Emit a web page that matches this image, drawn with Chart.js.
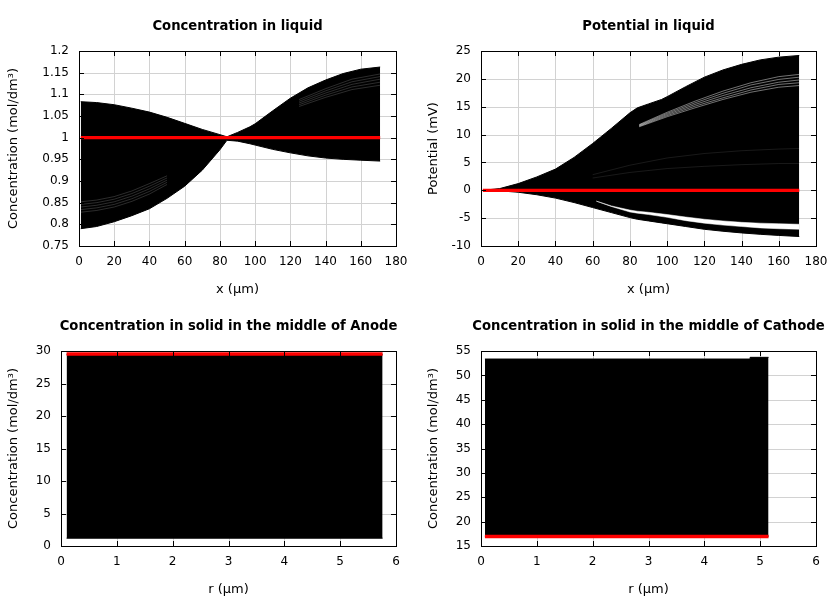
<!DOCTYPE html>
<html>
<head>
<meta charset="utf-8">
<script src="https://cdn.jsdelivr.net/npm/chart.js@4.4.0/dist/chart.umd.min.js"></script>
<style>
html,body{margin:0;padding:0;background:#fff}
#wrap{position:relative;width:840px;height:600px}
.p{position:absolute;width:420px;height:300px}
canvas{display:block}
</style>
</head>
<body>
<div id="wrap">
  <div class="p" style="left:0;top:0"><canvas id="c1" width="420" height="300"></canvas></div>
  <div class="p" style="left:420px;top:0"><canvas id="c2" width="420" height="300"></canvas></div>
  <div class="p" style="left:0;top:300px"><canvas id="c3" width="420" height="300"></canvas></div>
  <div class="p" style="left:420px;top:300px"><canvas id="c4" width="420" height="300"></canvas></div>
</div>
<script>
// tick labels
const xTicksLiq = [0, 20, 40, 60, 80, 100, 120, 140, 160, 180];
const rTicks = [0, 1, 2, 3, 4, 5, 6];
const liqYTicks = [0.75, 0.8, 0.85, 0.9, 0.95, 1, 1.05, 1.1, 1.15, 1.2];
const potYTicks = [-10, -5, 0, 5, 10, 15, 20, 25];
const anodeYTicks = [0, 5, 10, 15, 20, 25, 30];
const cathYTicks = [15, 20, 25, 30, 35, 40, 45, 50, 55];

// concentration in liquid: envelope of all time curves
const liqX     = [1, 10, 20, 30, 40, 50, 60, 70, 80, 84, 90, 97, 100, 110, 120, 130, 140, 150, 160, 171];
const liqUpper = [1.083, 1.081, 1.076, 1.068, 1.059, 1.047, 1.033, 1.019, 1.007, 1.002, 1.012, 1.025, 1.032, 1.062, 1.091, 1.115, 1.133, 1.148, 1.158, 1.163];
const liqLower = [0.790, 0.795, 0.806, 0.820, 0.836, 0.860, 0.888, 0.925, 0.972, 0.994, 0.992, 0.986, 0.983, 0.973, 0.965, 0.958, 0.953, 0.950, 0.948, 0.946];
const liqInitX = [1, 171];
const liqInit  = [1, 1];
// light streaks between curves
const liqStreakX = [1, 10, 20, 30, 40, 50];
const liqStreaks = [
  [0.828, 0.832, 0.840, 0.853, 0.870, 0.892],
  [0.834, 0.838, 0.846, 0.859, 0.876, 0.897],
  [0.840, 0.844, 0.852, 0.865, 0.882, 0.902],
  [0.846, 0.850, 0.858, 0.871, 0.888, 0.907],
  [0.852, 0.856, 0.864, 0.877, 0.894, 0.912]
];
const liqStreak2X = [125, 140, 155, 171];
const liqStreaks2 = [
  [1.088, 1.113, 1.135, 1.147],
  [1.084, 1.108, 1.129, 1.141],
  [1.080, 1.103, 1.123, 1.135],
  [1.076, 1.098, 1.117, 1.128],
  [1.072, 1.093, 1.111, 1.121]
];

// potential in liquid
const potX     = [1, 10, 20, 30, 40, 50, 60, 70, 80, 84, 90, 97, 100, 110, 120, 130, 140, 150, 160, 171];
const potUpper = [0, 0.3, 1.2, 2.4, 3.8, 5.9, 8.4, 11.1, 13.9, 14.8, 15.5, 16.3, 16.8, 18.6, 20.3, 21.6, 22.6, 23.4, 23.9, 24.2];
const potLower = [0, -0.1, -0.35, -0.8, -1.4, -2.2, -3.1, -4.0, -4.9, -5.2, -5.5, -5.85, -6.0, -6.5, -7.0, -7.35, -7.65, -7.9, -8.1, -8.3];
const potGapX   = [62, 70, 80, 84, 90, 100, 110, 120, 130, 140, 150, 160, 171];
const potGapTop = [-1.95, -2.8, -3.55, -3.75, -3.95, -4.35, -4.8, -5.2, -5.5, -5.75, -5.9, -6.0, -6.1];
const potGapBot = [-1.95, -2.9, -3.9, -4.1, -4.35, -4.85, -5.45, -5.9, -6.25, -6.5, -6.75, -6.9, -7.0];
const potInitX = [1, 171];
const potInit  = [0, 0];
const potStreakX = [85, 100, 115, 130, 145, 160, 171];
const potStreaks = [
  [11.8, 14.0, 16.0, 17.8, 19.3, 20.4, 20.8],
  [11.7, 13.8, 15.7, 17.4, 18.9, 19.9, 20.3],
  [11.6, 13.6, 15.4, 17.0, 18.4, 19.4, 19.8],
  [11.5, 13.4, 15.1, 16.6, 18.0, 19.0, 19.3],
  [11.4, 13.2, 14.8, 16.3, 17.6, 18.5, 18.8]
];
const potFaintX = [60, 80, 100, 120, 140, 160, 171];
const potFaint = [
  [2.8, 4.5, 5.8, 6.6, 7.1, 7.4, 7.5],
  [2.2, 3.2, 3.9, 4.3, 4.6, 4.8, 4.8]
];

// solid, middle of anode
const anodeX     = [0.1, 5.76];
const anodeUpper = [29.5, 29.5];
const anodeLower = [1.2, 1.2];
const anodeInit  = [29.55, 29.55];

// solid, middle of cathode
const cathX     = [0.07, 4.82, 4.82, 5.15];
const cathUpper = [53.35, 53.35, 53.7, 53.7];
const cathLower = [17, 17, 17, 17];
const cathInitX = [0.07, 5.15];
const cathInit  = [16.95, 16.95];

const FONT = '"DejaVu Sans", "Liberation Sans", sans-serif';
const GRID = '#d2d2d2';

const pts = (xs, ys) => xs.map((x, i) => ({x, y: ys[i]}));
const edge = (xs, ys, order) => ({data: pts(xs, ys), borderColor: '#000', borderWidth: 1, pointRadius: 0, fill: false, order});
const band = (xs, ys, color, bw, order) => ({data: pts(xs, ys), borderColor: color, borderWidth: bw, pointRadius: 0, fill: '-1', backgroundColor: color, order});
const thin = (xs, ys, color, w, order) => ({data: pts(xs, ys), borderColor: color, borderWidth: w, pointRadius: 0, fill: false, order});
const red = (xs, ys, w) => ({data: pts(xs, ys), borderColor: '#ff0000', borderWidth: w, pointRadius: 0, fill: false, order: 0});

// grid under the curves
const gridUnder = {
  id: 'gridUnder',
  beforeDatasetsDraw(chart) {
    const {ctx, chartArea: a, scales} = chart;
    ctx.save();
    ctx.strokeStyle = GRID;
    ctx.lineWidth = 1;
    ctx.beginPath();
    for (const t of scales.x.ticks) {
      const px = Math.round(scales.x.getPixelForValue(t.value)) + 0.5;
      ctx.moveTo(px, a.top); ctx.lineTo(px, a.bottom);
    }
    for (const t of scales.y.ticks) {
      const py = Math.round(scales.y.getPixelForValue(t.value)) + 0.5;
      ctx.moveTo(a.left, py); ctx.lineTo(a.right, py);
    }
    ctx.stroke();
    ctx.restore();
  }
};

// border box + inward ticks on all sides, and the panel title
const frame = {
  id: 'frame',
  afterDraw(chart) {
    const {ctx, chartArea: a, scales} = chart;
    ctx.save();
    ctx.strokeStyle = '#000';
    ctx.lineWidth = 1;
    ctx.beginPath();
    for (const t of scales.x.ticks) {
      const px = Math.round(scales.x.getPixelForValue(t.value)) + 0.5;
      ctx.moveTo(px, a.bottom); ctx.lineTo(px, a.bottom - 5);
      ctx.moveTo(px, a.top); ctx.lineTo(px, a.top + 5);
    }
    for (const t of scales.y.ticks) {
      const py = Math.round(scales.y.getPixelForValue(t.value)) + 0.5;
      ctx.moveTo(a.left, py); ctx.lineTo(a.left + 5, py);
      ctx.moveTo(a.right, py); ctx.lineTo(a.right - 5, py);
    }
    ctx.stroke();
    ctx.strokeRect(Math.round(a.left) + 0.5, Math.round(a.top) + 0.5, Math.round(a.right - a.left), Math.round(a.bottom - a.top));
    ctx.fillStyle = '#000';
    ctx.font = 'bold 13.2px ' + FONT;
    ctx.textAlign = 'center';
    ctx.textBaseline = 'alphabetic';
    ctx.fillText(chart.options.plugins.frame.title, (a.left + a.right) / 2, 29.5);
    ctx.restore();
  }
};

function panel(id, o) {
  return new Chart(document.getElementById(id), {
    type: 'line',
    data: {datasets: o.datasets},
    options: {
      responsive: false,
      animation: false,
      events: [],
      layout: {padding: {left: 0, right: 24, top: 51, bottom: 0}},
      plugins: {legend: {display: false}, tooltip: {enabled: false}, frame: {title: o.title}},
      scales: {
        x: {
          type: 'linear', min: o.xMin, max: o.xMax,
          afterBuildTicks: s => { s.ticks = o.xTicks.map(v => ({value: v})); },
          afterFit: s => { s.height = 54; },
          grid: {display: false, drawTicks: false},
          border: {display: false},
          ticks: {padding: 9, color: '#000', font: {family: FONT, size: 12}, callback: v => String(v)},
          title: {display: true, text: o.xTitle, color: '#000', font: {family: FONT, size: 13}, padding: {top: 3, bottom: 3}}
        },
        y: {
          type: 'linear', min: o.yMin, max: o.yMax,
          afterBuildTicks: s => { s.ticks = o.yTicks.map(v => ({value: v})); },
          afterFit: s => { s.width = o.left; },
          grid: {display: false, drawTicks: false},
          border: {display: false},
          ticks: {padding: 10, color: '#000', font: {family: FONT, size: 12}, callback: v => String(v)},
          title: {display: true, text: o.yTitle, color: '#000', font: {family: FONT, size: 13}, padding: {top: 6, bottom: 6}}
        }
      }
    },
    plugins: [gridUnder, frame]
  });
}

const concTitle = 'Concentration (mol/dm³)';

panel('c1', {
  title: 'Concentration in liquid', xTitle: 'x (µm)', yTitle: concTitle, left: 79,
  xMin: 0, xMax: 180, yMin: 0.75, yMax: 1.2, xTicks: xTicksLiq, yTicks: liqYTicks,
  datasets: [
    edge(liqX, liqUpper, 10),
    band(liqX, liqLower, '#000', 1, 9),
    ...liqStreaks.map(s => thin(liqStreakX, s, 'rgba(255,255,255,0.35)', 0.5, 3)),
    ...liqStreaks2.map(s => thin(liqStreak2X, s, 'rgba(255,255,255,0.35)', 0.5, 3)),
    red(liqInitX, liqInit, 3.3)
  ]
});

panel('c2', {
  title: 'Potential in liquid', xTitle: 'x (µm)', yTitle: 'Potential (mV)', left: 61,
  xMin: 0, xMax: 180, yMin: -10, yMax: 25, xTicks: xTicksLiq, yTicks: potYTicks,
  datasets: [
    edge(potX, potUpper, 10),
    band(potX, potLower, '#000', 1, 9),
    thin(potGapX, potGapTop, '#fff', 0.5, 6),
    band(potGapX, potGapBot, '#fff', 0.5, 5),
    ...potStreaks.map(s => thin(potStreakX, s, 'rgba(255,255,255,0.75)', 0.6, 3)),
    ...potFaint.map(s => thin(potFaintX, s, 'rgba(255,255,255,0.2)', 0.5, 3)),
    red(potInitX, potInit, 3.3)
  ]
});

panel('c3', {
  title: 'Concentration in solid in the middle of Anode', xTitle: 'r (µm)', yTitle: concTitle, left: 61,
  xMin: 0, xMax: 6, yMin: 0, yMax: 30, xTicks: rTicks, yTicks: anodeYTicks,
  datasets: [
    edge(anodeX, anodeUpper, 10),
    band(anodeX, anodeLower, '#000', 1, 9),
    red(anodeX, anodeInit, 3.4)
  ]
});

panel('c4', {
  title: 'Concentration in solid in the middle of Cathode', xTitle: 'r (µm)', yTitle: concTitle, left: 61,
  xMin: 0, xMax: 6, yMin: 15, yMax: 55, xTicks: rTicks, yTicks: cathYTicks,
  datasets: [
    edge(cathX, cathUpper, 10),
    band(cathX, cathLower, '#000', 1, 9),
    red(cathInitX, cathInit, 3.6)
  ]
});
</script>
</body>
</html>
